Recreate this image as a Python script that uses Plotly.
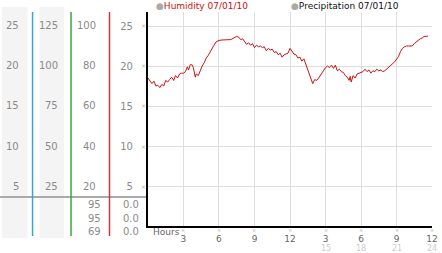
import plotly.graph_objects as go

W, H = 442, 253

# ---------------- data ----------------
hours = [0.0, 0.17, 0.33, 0.5, 0.67, 0.83, 1.0, 1.17, 1.33, 1.5, 1.67, 1.83, 2.0, 2.17, 2.33, 2.5,
         2.67, 2.83, 3.0, 3.17, 3.33, 3.42, 3.58, 3.75, 3.83, 4.0, 4.08, 4.25, 4.42, 4.58, 4.75,
         4.92, 5.08, 5.25, 5.42, 5.58, 5.75, 6.0, 6.25, 6.5, 6.75, 7.0, 7.25, 7.5, 7.67, 7.83,
         8.0, 8.17, 8.33, 8.5, 8.67, 8.83, 9.0, 9.17, 9.33, 9.5, 9.67, 9.83, 10.0, 10.17, 10.33,
         10.5, 10.67, 10.83, 11.0, 11.17, 11.33, 11.5, 11.67, 11.83, 12.0, 12.17, 12.33, 12.5,
         12.67, 12.83, 13.0, 13.17, 13.33, 13.5, 13.67, 13.83, 13.92, 14.08, 14.25, 14.42, 14.58,
         14.75, 15.0, 15.17, 15.33, 15.5, 15.67, 15.83, 16.0, 16.17, 16.33, 16.5, 16.67, 16.83,
         17.0, 17.08, 17.17, 17.33, 17.5, 17.67, 17.83, 18.0, 18.17, 18.33, 18.5, 18.67, 18.83,
         19.0, 19.17, 19.33, 19.5, 19.67, 19.83, 20.0, 20.17, 20.33, 20.5, 20.67, 20.83, 21.0,
         21.17, 21.33, 21.5, 21.67, 21.83, 22.0, 22.33, 22.5, 22.67, 22.83, 23.0, 23.17, 23.33,
         23.5, 23.67]
humidity = [18.5, 18.2, 17.8, 18.1, 17.5, 17.6, 17.3, 17.7, 17.5, 18.2, 18.0, 18.3, 18.6, 18.2, 18.8, 18.5,
            19.0, 19.1, 19.1, 19.3, 19.9, 19.5, 20.2, 20.1, 19.8, 18.6, 19.0, 18.8, 19.5, 20.0, 20.4,
            21.0, 21.3, 21.8, 22.2, 22.6, 23.0, 23.2, 23.25, 23.25, 23.25, 23.3, 23.5, 23.7, 23.6, 23.3,
            23.4, 23.0, 22.7, 22.9, 22.6, 22.8, 22.3, 22.6, 22.4, 22.5, 22.3, 22.4, 21.9, 22.2, 22.0,
            22.1, 21.7, 21.8, 21.4, 21.6, 21.1, 21.4, 21.5, 21.6, 22.2, 21.8, 21.5, 21.4,
            21.0, 21.1, 20.6, 20.9, 20.2, 19.5, 18.9, 18.2, 17.8, 18.3, 18.2, 18.5, 18.9,
            19.3, 19.8, 20.0, 19.8, 20.1, 19.7, 20.1, 19.4, 19.6, 19.3, 19.2, 18.8, 18.6,
            18.2, 18.7, 18.0, 18.8, 18.5, 19.0, 19.1, 19.2, 19.3, 19.6, 19.3, 19.5, 19.1,
            19.4, 19.3, 19.6, 19.4, 19.5, 19.3, 19.4, 19.6, 19.8, 20.1, 20.3, 20.5, 20.8,
            21.2, 21.8, 22.2, 22.4, 22.5, 22.5, 22.5, 22.8, 23.0, 23.3, 23.4, 23.5, 23.7,
            23.7, 23.75]

main_ticks = [5, 10, 15, 20, 25]
col1_labels = ["5", "10", "15", "20", "25"]
col2_labels = ["25", "50", "75", "100", "125"]
col3_labels = ["20", "40", "60", "80", "100"]
x_ticks = [3, 6, 9, 12, 15, 18, 21, 24]
x_ticktext = ["3", "6", "9", "12", "3", "6", "9", "12"]
x_ticks_day2 = [15, 18, 21, 24]
x_ticktext_day2 = ["15", "18", "21", "24"]
summary_col3 = ["95", "95", "69"]
summary_col4 = ["0.0", "0.0", "0.0"]
legend_names = ["Humidity 07/01/10", "Precipitation 07/01/10"]

# ---------------- helpers ----------------
def px(x):
    return x / W

def py(y):
    return 1 - y / H

FONT = "DejaVu Sans"
GRAY = "#8a8a8a"

fig = go.Figure()
fig.add_trace(go.Scatter(x=hours, y=humidity, mode="lines",
                         line=dict(color="#cc1111", width=1), name=legend_names[0],
                         showlegend=False, hoverinfo="skip"))

fig.update_layout(
    width=W, height=H, margin=dict(l=0, r=0, t=0, b=0),
    paper_bgcolor="white", plot_bgcolor="white",
    showlegend=False,
    xaxis=dict(domain=[px(150), px(438)], range=[0, 24], tickvals=x_ticks, ticktext=x_ticktext,
               showgrid=True, gridcolor="#dddddd", gridwidth=1, zeroline=False,
               showline=True, linecolor="black", linewidth=2, ticks="",
               ticklabeloverflow="allow",
               tickfont=dict(family=FONT, size=9, color="#666666"), ticklabelstandoff=3),
    yaxis=dict(domain=[py(226), py(12)], range=[0, 26.75], tickvals=main_ticks,
               showgrid=True, gridcolor="#dddddd", gridwidth=1, zeroline=False,
               showline=True, linecolor="black", linewidth=2, ticks="",
               tickfont=dict(family=FONT, size=10, color=GRAY), ticklabelstandoff=11),
)

shapes = []
# light gray column boxes
for x0, x1 in [(2, 28), (40, 65)]:
    shapes.append(dict(type="rect", xref="paper", yref="paper", x0=px(x0), x1=px(x1),
                       y0=py(238), y1=py(7), fillcolor="#f4f4f4", line=dict(width=0), layer="below"))
# horizontal separator
shapes.append(dict(type="line", xref="paper", yref="paper", x0=0, x1=px(148), y0=py(197), y1=py(197),
                   line=dict(color="#aaaaaa", width=2)))
# colored vertical axis lines
for xl, c in [(33, "#3aa6c8"), (72, "#3aa83a"), (111, "#c83a3a")]:
    shapes.append(dict(type="line", xref="paper", yref="paper", x0=px(xl), x1=px(xl),
                       y0=py(236), y1=py(12), line=dict(color=c, width=1.5)))
fig.update_layout(shapes=shapes)

ann = []
# left columns tick labels
for labels, xr in [(col1_labels, 21), (col2_labels, 61), (col3_labels, 99)]:
    for v, t in zip(main_ticks, labels):
        ann.append(dict(x=px(xr), y=v, xref="paper", yref="y", text=t, showarrow=False,
                        xanchor="right", yanchor="middle", font=dict(family=FONT, size=10, color=GRAY)))
# small tick markers on the main y axis
for v in main_ticks:
    ann.append(dict(x=px(145), y=v, xref="paper", yref="y", text="×", showarrow=False,
                    xanchor="center", yanchor="middle", font=dict(family=FONT, size=6, color="#aaaaaa")))
# small tick markers on the x axis
for v in x_ticks:
    ann.append(dict(x=v, y=py(229.5), xref="x", yref="paper", text="×", showarrow=False,
                    xanchor="center", yanchor="middle", font=dict(family=FONT, size=5, color="#aaaaaa")))
# second day row
for v, t in zip(x_ticks_day2, x_ticktext_day2):
    ann.append(dict(x=v, y=py(248), xref="x", yref="paper", text=t, showarrow=False,
                    xanchor="center", yanchor="middle", font=dict(family=FONT, size=8, color="#cccccc")))
# Hours label
ann.append(dict(x=px(153), y=py(232), xref="paper", yref="paper", text="Hours", showarrow=False,
                xanchor="left", yanchor="middle", font=dict(family=FONT, size=9, color="#666666")))
# summary values below separator
for i, yy in enumerate([204, 218, 231.5]):
    ann.append(dict(x=px(104), y=py(yy), xref="paper", yref="paper", text=summary_col3[i], showarrow=False,
                    xanchor="right", yanchor="middle", font=dict(family=FONT, size=10, color=GRAY)))
    ann.append(dict(x=px(143), y=py(yy), xref="paper", yref="paper", text=summary_col4[i], showarrow=False,
                    xanchor="right", yanchor="middle", font=dict(family=FONT, size=10, color=GRAY)))
# legend
for name, xl, col in [(legend_names[0], 156, "#cc1111"), (legend_names[1], 293, "#111111")]:
    ann.append(dict(x=px(xl), y=py(6), xref="paper", yref="paper",
                    text="<span style='color:#aaaaaa'>●</span>" + name, showarrow=False,
                    xanchor="left", yanchor="middle", font=dict(family=FONT, size=9, color=col)))
fig.update_layout(annotations=ann)

fig.write_html("out.html")
